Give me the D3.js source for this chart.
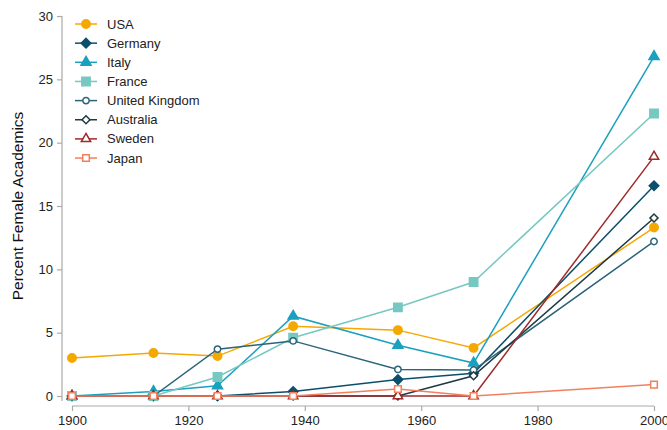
<!DOCTYPE html>
<html><head><meta charset="utf-8">
<script src="https://cdn.jsdelivr.net/npm/d3@7"></script>
<style>body{margin:0;background:#fff;} text{font-family:"Liberation Sans",Arial,sans-serif;}</style>
</head><body>
<svg id="chart" width="667" height="430"></svg>
<script>
const years = [1900, 1914, 1925, 1938, 1956, 1969, 2000];
const countries = ["USA","Germany","Italy","France","United Kingdom","Australia","Sweden","Japan"];
const usa       = [3.0, 3.4, 3.15, 5.5, 5.2, 3.8, 13.3];
const germany   = [0, 0, 0, 0.35, 1.3, 1.8, 16.6];
const italy     = [0, 0.35, 0.8, 6.3, 4.0, 2.6, 26.8];
const france    = [0, 0, 1.5, 4.6, 7.0, 9.0, 22.3];
const uk        = [0, 0, 3.7, 4.35, 2.1, 2.05, 12.2];
const australia = [0, 0, 0, 0, 0, 1.6, 14.05];
const sweden    = [0, 0, 0, 0, 0, 0, 18.9];
const japan     = [0, 0, 0, 0, 0.55, 0, 0.9];
const yTicks = [0, 5, 10, 15, 20, 25, 30];
const xTicks = [1900, 1920, 1940, 1960, 1980, 2000];

const seriesValues = [usa, germany, italy, france, uk, australia, sweden, japan];
const colors = ["#f5a800","#0c4f6a","#1ba0bf","#76c8c1","#2b6479","#1c3a43","#9e2a2b","#f2805e"];
const shapes = [
  {t:d3.symbolCircle, s:56, fill:true, rot:0},
  {t:d3.symbolSquare, s:46, fill:true, rot:45},
  {t:d3.symbolTriangle, s:44, fill:true, rot:0},
  {t:d3.symbolSquare, s:70, fill:true, rot:0},
  {t:d3.symbolCircle, s:32, fill:false, rot:0},
  {t:d3.symbolSquare, s:32, fill:false, rot:45},
  {t:d3.symbolTriangle, s:38, fill:false, rot:0},
  {t:d3.symbolSquare, s:44, fill:false, rot:0}
];

const svg = d3.select("#chart");
const x = d3.scaleLinear().domain([1900, 2000]).range([72, 654]);
const y = d3.scaleLinear().domain([0, 30]).range([396, 16]);
const axisColor = "#aaa";

// Y axis
const gy = svg.append("g").attr("transform","translate(62,0)")
  .call(d3.axisLeft(y).tickValues(yTicks).tickSize(5).tickSizeOuter(0).tickPadding(4));
gy.select(".domain").remove();
gy.append("line").attr("x1",0).attr("x2",0).attr("y1",y(30)).attr("y2",y(0)+5).attr("stroke",axisColor).attr("stroke-width",1.2);
gy.selectAll(".tick line").attr("stroke",axisColor).attr("stroke-width",1.2);
gy.selectAll(".tick text").attr("fill","#222").style("font-size","13px").style("font-family","Liberation Sans, Arial, sans-serif");

// X axis
const gx = svg.append("g").attr("transform","translate(0,406)")
  .call(d3.axisBottom(x).tickValues(xTicks).tickFormat(d3.format("d")).tickSize(5).tickSizeOuter(0).tickPadding(5));
gx.select(".domain").remove();
gx.append("line").attr("x1",x(1900)).attr("x2",x(2000)).attr("y1",0).attr("y2",0).attr("stroke",axisColor).attr("stroke-width",1.2);
gx.selectAll(".tick line").attr("stroke",axisColor).attr("stroke-width",1.2);
gx.selectAll(".tick text").attr("fill","#222").style("font-size","13px").style("font-family","Liberation Sans, Arial, sans-serif");

// Y label
svg.append("text").attr("transform","translate(23,206) rotate(-90)")
  .attr("text-anchor","middle").style("font-size","15.5px").attr("fill","#111")
  .text("Percent Female Academics");

const line = d3.line().x((d,i)=>x(years[i])).y(d=>y(d));

function marker(g, k, cx, cy){
  const sh = shapes[k];
  g.append("path").attr("d", d3.symbol().type(sh.t).size(sh.s)())
   .attr("transform", `translate(${cx},${cy}) rotate(${sh.rot})`)
   .attr("fill", sh.fill ? colors[k] : "#fff")
   .attr("stroke", colors[k]).attr("stroke-width", 1.5);
}

seriesValues.forEach((vals, k) => {
  const g = svg.append("g");
  g.append("path").attr("d", line(vals)).attr("fill","none").attr("stroke",colors[k]).attr("stroke-width",1.5);
  vals.forEach((v,i) => marker(g, k, x(years[i]), y(v)));
});

// Legend
countries.forEach((c, k) => {
  const ly = 24 + k*19.15;
  const g = svg.append("g");
  g.append("line").attr("x1",75).attr("x2",97).attr("y1",ly).attr("y2",ly).attr("stroke",colors[k]).attr("stroke-width",1.5);
  marker(g, k, 86, ly);
  g.append("text").attr("x",107).attr("y",ly).attr("dy","0.35em").style("font-size","13px").attr("fill","#222").text(c);
});
</script>
</body></html>
